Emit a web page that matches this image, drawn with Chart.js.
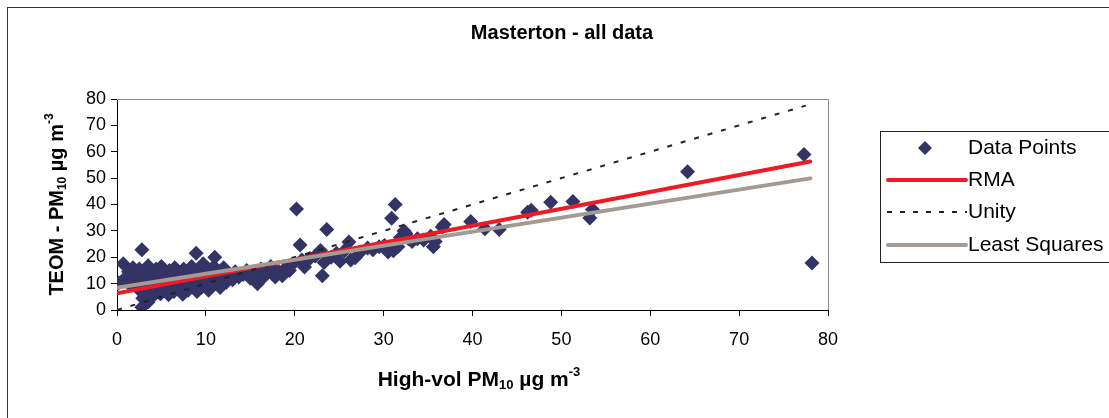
<!DOCTYPE html>
<html>
<head>
<meta charset="utf-8">
<script src="https://cdn.jsdelivr.net/npm/chart.js@4.4.1/dist/chart.umd.min.js"></script>
<style>
body{margin:0;background:#fff;}
#c{display:block;}
</style>
</head>
<body>
<canvas id="c" width="1109" height="418"></canvas>
<script>
// High-vol PM10 (x) vs TEOM PM10 (y)
const hvPM10 = [0.2,0.7,0.9,1.3,1.5,1.8,2.0,2.2,2.4,2.5,2.7,2.8,2.8,2.9,3.0,3.1,3.2,3.3,3.5,3.5,3.6,3.8,4.0,4.1,4.2,4.4,4.5,4.7,4.9,5.0,
  5.1,5.3,5.4,5.6,5.8,5.9,6.1,6.2,6.4,6.5,6.7,6.9,7.0,7.2,7.4,7.5,7.7,7.9,8.0,8.2,8.4,8.5,8.7,8.9,9.0,9.2,9.4,9.5,9.7,9.8,
  10.0,10.2,10.3,10.5,10.7,10.9,11.0,11.2,11.4,11.6,11.8,12.0,12.3,12.6,13.0,13.3,13.7,14.2,14.6,15.0,15.4,15.8,16.2,16.5,16.9,17.3,17.8,18.2,18.6,19.0,
  19.4,19.8,20.2,20.6,21.1,20.8,21.7,22.3,22.9,23.1,23.3,23.6,24.1,24.7,25.1,25.6,26.1,26.3,26.8,27.4,28.2,28.8,29.5,30.1,30.5,30.9,31.1,31.3,31.6,31.9,
  32.3,32.5,32.8,33.2,33.8,34.5,35.3,35.6,35.8,36.8,36.6,39.8,41.4,43.0,46.2,46.6,48.8,51.3,53.5,53.2,64.2,77.3,78.2];
const teomPM10 = [10.2,17.5,12,14.5,9.5,16,11.5,13.5,8,15.5,10.5,22.8,1.0,4.5,12.5,6.5,14.8,9.2,16.8,3,11.2,7.5,13.8,5.5,10,15.5,8.5,12.2,6.2,16.5,
  10.8,14,8,12,5.8,15,9.5,13,7,16,11,14.5,8.5,12.5,6,15.5,10,13.5,7.5,11.5,16.5,9,13,21.5,7,11,15,8.5,17.5,12.5,
  10,15,7.5,13,9.5,16.5,20,11.5,14,8.5,12.5,16,10.5,13.5,11.5,14.5,12.5,13.5,15,12,14,10,15.5,12.5,14,16.5,12.5,14.5,13,16,
  15,17.5,38.3,24.6,16.3,19,19.5,20.5,22.6,13,18,30.5,20,21.5,18.5,22.5,25.8,19,19.8,22,23.5,22.8,24,24.5,22,34.8,22.5,40,24,27.5,
  30,29,27,26,27,26.5,28,24,26,32.4,31.5,33.6,30.8,30.5,37.1,37.8,40.9,41.1,38.1,34.9,52.4,59,17.8];

// fitted lines (end points)
const rmaX = [0, 78];
const rmaY = [6.3, 56.3];
const unityX = [0, 77.5];
const unityY = [0, 77.5];
const lsX = [0, 78];
const lsY = [8.4, 49.9];

const xTicks = [0,10,20,30,40,50,60,70,80];
const yTicks = [0,10,20,30,40,50,60,70,80];

const pts = (xs, ys) => xs.map((x,i)=>({x:x, y:ys[i]}));
const navy = '#333366', red = '#ED1C24', grey = '#A39A94';
const FONT = '"Liberation Sans", Arial, sans-serif';

function richText(ctx, parts, x, y, size){
  // parts: [text, mode] mode: 0 normal, 1 sub, 2 sup
  let w = 0;
  parts.forEach(p=>{ctx.font = 'bold '+(p[1]?Math.round(size*0.62):size)+'px '+FONT; w += ctx.measureText(p[0]).width;});
  let cx = x - w/2;
  ctx.textBaseline = 'middle'; ctx.textAlign = 'left';
  parts.forEach(p=>{
    ctx.font = 'bold '+(p[1]?Math.round(size*0.62):size)+'px '+FONT;
    const dy = p[1]===1 ? size*0.28 : p[1]===2 ? -size*0.38 : 0;
    ctx.fillText(p[0], cx, y+dy);
    cx += ctx.measureText(p[0]).width;
  });
}

const decor = {
  id:'decor',
  beforeDatasetsDraw(chart){
    const {ctx, chartArea:a} = chart;
    ctx.save();
    ctx.strokeStyle = '#8c8c8c'; ctx.lineWidth = 1;
    ctx.beginPath();
    ctx.moveTo(a.left, a.top+0.5); ctx.lineTo(a.right+0.5, a.top+0.5); ctx.lineTo(a.right+0.5, a.bottom);
    ctx.stroke();
    ctx.restore();
  },
  afterDraw(chart){
    const {ctx, chartArea:a} = chart;
    ctx.save();
    // outer frame
    ctx.strokeStyle = '#333'; ctx.lineWidth = 1;
    ctx.strokeRect(7.5, 7.5, 1200, 500);
    ctx.fillStyle = '#000';
    ctx.font = 'bold 20px '+FONT; ctx.textAlign='center'; ctx.textBaseline='middle';
    ctx.fillText('Masterton - all data', 562, 33);
    richText(ctx, [['High-vol PM',0],['10',1],[' µg m',0],['-3',2]], 479, 380, 21);
    ctx.save();
    ctx.translate(57, (a.top+a.bottom)/2); ctx.rotate(-Math.PI/2);
    richText(ctx, [['TEOM - PM',0],['10',1],[' µg m',0],['-3',2]], 0, 0, 20);
    ctx.restore();
    // legend
    ctx.strokeStyle = '#222'; ctx.lineWidth = 1;
    ctx.strokeRect(880.5, 131.5, 240, 131);
    ctx.font = '21px '+FONT; ctx.textAlign='left'; ctx.textBaseline='middle'; ctx.fillStyle='#000';
    const rows = [['Data Points',148],['RMA',180],['Unity',212],['Least Squares',245]];
    rows.forEach(r=>ctx.fillText(r[0], 968, r[1]));
    ctx.fillStyle = navy;
    ctx.beginPath(); ctx.moveTo(925,141); ctx.lineTo(932,148); ctx.lineTo(925,155); ctx.lineTo(918,148); ctx.closePath(); ctx.fill();
    ctx.lineCap = 'round';
    ctx.strokeStyle = red; ctx.lineWidth = 4;
    ctx.beginPath(); ctx.moveTo(888,180); ctx.lineTo(966,180); ctx.stroke();
    ctx.strokeStyle = grey;
    ctx.beginPath(); ctx.moveTo(888,245); ctx.lineTo(966,245); ctx.stroke();
    ctx.lineCap = 'butt';
    ctx.strokeStyle = '#222'; ctx.lineWidth = 2; ctx.setLineDash([5,8]);
    ctx.beginPath(); ctx.moveTo(887,212); ctx.lineTo(967,212); ctx.stroke();
    ctx.restore();
  }
};

const axisBase = {
  type:'linear', min:0, max:80,
  grid:{drawOnChartArea:false, drawTicks:true, tickLength:6, color:'#000'},
  border:{color:'#000', width:1},
};

new Chart(document.getElementById('c'), {
  type:'scatter',
  data:{datasets:[
    {label:'Data Points', data:pts(hvPM10, teomPM10), pointStyle:'rectRot', pointRadius:7.5,
      backgroundColor:navy, borderColor:navy, borderWidth:0, order:4},
    {label:'RMA', data:pts(rmaX, rmaY), showLine:true, pointRadius:0, borderColor:red, borderWidth:4,
      borderCapStyle:'round', order:3},
    {label:'Unity', data:pts(unityX, unityY), showLine:true, pointRadius:0, borderColor:'#222', borderWidth:2,
      borderDash:[5,9], order:2},
    {label:'Least Squares', data:pts(lsX, lsY), showLine:true, pointRadius:0, borderColor:grey, borderWidth:4,
      borderCapStyle:'round', order:1}
  ]},
  options:{
    responsive:false, animation:false, events:[],
    layout:{padding:{left:0, top:99, right:281, bottom:0}},
    plugins:{legend:{display:false}, tooltip:{enabled:false}, title:{display:false}},
    scales:{
      x:Object.assign({}, axisBase, {
        afterBuildTicks(s){ s.ticks = xTicks.map(v=>({value:v})); },
        afterFit(s){ s.height = 108; },
        ticks:{color:'#000', font:{family:FONT, size:18}, padding:13, maxRotation:0}
      }),
      y:Object.assign({}, axisBase, {
        afterBuildTicks(s){ s.ticks = yTicks.map(v=>({value:v})); },
        afterFit(s){ s.width = 117; },
        ticks:{color:'#000', font:{family:FONT, size:18}, padding:5}
      })
    }
  },
  plugins:[decor]
});
</script>
</body>
</html>
